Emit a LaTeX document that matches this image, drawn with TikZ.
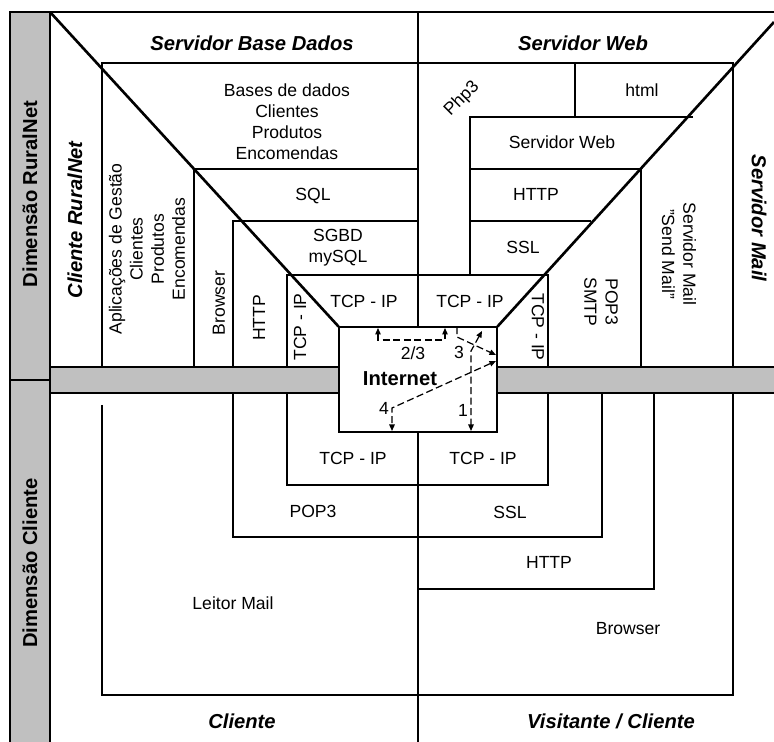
\documentclass[tikz,border=0pt]{standalone}
\usepackage{fontspec}
\setmainfont{Liberation Sans}
\usepackage{tikz}
\usetikzlibrary{arrows.meta}
\definecolor{cinza}{RGB}{192,192,192}
\tikzset{
    camada/.style={line width=1.5pt},
    faixa/.style={draw, fill=cinza, line width=0.6pt},
    caixa/.style={
        rectangle,
        draw,
        fill=white,
        line width=0.6pt,
        minimum width=3.16cm,
        minimum height=2.1cm,
        inner sep=0pt
    },
    rotulo/.style={align=center, inner sep=1pt, font=\fontsize{10}{12}\selectfont},
    titulo/.style={align=center, inner sep=1pt, font=\fontsize{11.5}{13}\selectfont\bfseries\itshape},
    dimensao/.style={align=center, inner sep=1pt, rotate=90, font=\fontsize{11.5}{13}\selectfont\bfseries},
    ponta/.tip={Triangle[length=1.3mm,width=1.1mm]},
    seta/.style={dash pattern=on 4pt off 2pt, line width=0.7pt, -ponta},
    dupla/.style={dash pattern=on 4pt off 2pt, line width=0.7pt, ponta-ponta}
}

\begin{document}
\begin{tikzpicture}[x=0.02cm, y=-0.02cm]
    \useasboundingbox (0,0) rectangle (774,742);

    % faixas cinzentas
    \draw[faixa] (10,12) rectangle (50,750);
    \draw[line width=0.6pt] (10,380) -- (50,380);
    \draw[faixa] (50,367) rectangle (340,393);
    \draw[faixa] (496,367) rectangle (780,393);
    \node[caixa] (internet) at (418,379.5) {};

    % moldura exterior
    \draw[camada] (50,12) -- (774,12);
    \draw[camada] (50,12) -- (internet.north west);
    \draw[camada] (internet.north east) -- (774,22);
    \draw[camada] (418,12) -- (internet.north);
    \draw[camada] (internet.south) -- (418,742);

    % camadas superiores
    \draw[camada] (102,367) -- (102,63) -- (733,63) -- (733,367);
    \draw[camada] (194,367) -- (194,169) -- (418,169);
    \draw[camada] (233,367) -- (233,221) -- (418,221);
    \draw[camada] (287,367) -- (287,275) -- (548,275) -- (548,367);
    \draw[camada] (575,63) -- (575,117);
    \draw[camada] (693,117) -- (470,117) -- (470,275);
    \draw[camada] (470,169) -- (641,169) -- (641,367);
    \draw[camada] (470,221) -- (591,221);

    % camadas inferiores
    \draw[camada] (287,393) -- (287,485) -- (548,485) -- (548,393);
    \draw[camada] (233,393) -- (233,537) -- (602,537) -- (602,393);
    \draw[camada] (418,589) -- (654,589) -- (654,393);
    \draw[camada] (102,405) -- (102,695) -- (733,695) -- (733,393);

    % dimensoes e titulos
    \node[dimensao] (dimrural) at (30,194) {Dimensão RuralNet};
    \node[dimensao] (dimcli) at (30,563) {Dimensão Cliente};
    \node[titulo, rotate=90] (clirural) at (75,220) {Cliente RuralNet};
    \node[titulo] (srvbd) at (252,43) {Servidor Base Dados};
    \node[titulo] (srvweb) at (583,43) {Servidor Web};
    \node[titulo, rotate=-90] (srvmail) at (759,218) {Servidor Mail};
    \node[titulo] (cliente) at (242,721) {Cliente};
    \node[titulo] (visitante) at (611,721) {Visitante / Cliente};

    % servidor base dados
    \node[rotulo] (bases) at (287,122)
        {Bases de dados\\Clientes\\Produtos\\Encomendas};
    \node[rotulo] (sql) at (313,196) {SQL};
    \node[rotulo] (sgbd) at (338,248) {SGBD\\mySQL};
    \node[rotulo] (tcpa) at (364,301) {TCP - IP};
    \node[rotulo, rotate=90] (tcpb) at (300,327) {TCP - IP};
    \node[rotulo, rotate=90] (httpa) at (259,318) {HTTP};
    \node[rotulo, rotate=90] (browsera) at (219,303) {Browser};
    \node[rotulo, rotate=90] (aplic) at (147,249)
        {Aplicações de Gestão\\Clientes\\Produtos\\Encomendas};

    % servidor web
    \node[rotulo, rotate=45, inner sep=0pt] (php) at (462,99) {Php3};
    \node[rotulo] (html) at (642,90) {html};
    \node[rotulo] (web) at (562,142) {Servidor Web};
    \node[rotulo] (httpb) at (536,194) {HTTP};
    \node[rotulo] (ssla) at (523,247) {SSL};
    \node[rotulo] (tcpc) at (470,301) {TCP - IP};
    \node[rotulo, rotate=-90] (tcpd) at (538,327) {TCP - IP};
    \node[rotulo, rotate=-90] (pop) at (601,302) {POP3\\SMTP};
    \node[rotulo, rotate=-90] (mail) at (679,254) {Servidor Mail\\"Send Mail"};

    % cliente
    \node[rotulo] (tcpe) at (353,458) {TCP - IP};
    \node[rotulo] (tcpf) at (483,458) {TCP - IP};
    \node[rotulo] (popb) at (313,511) {POP3};
    \node[rotulo] (sslb) at (510,512) {SSL};
    \node[rotulo] (httpc) at (549,562) {HTTP};
    \node[rotulo] (leitor) at (233,603) {Leitor Mail};
    \node[rotulo] (browserb) at (628,629) {Browser};

    % internet
    \node[titulo, font=\fontsize{11.5}{13}\selectfont\bfseries] (net) at (400,379) {Internet};
    \node[rotulo] (l23) at (413,353) {2/3};
    \node[rotulo] (l3) at (459,352) {3};
    \node[rotulo] (l4) at (384,408) {4};
    \node[rotulo] (l1) at (463,410) {1};

    \coordinate (p23a) at (378,328);
    \coordinate (p23b) at (378,340);
    \coordinate (p23c) at (445,340);
    \coordinate (p23d) at (445,328);
    \coordinate (p3a) at (457,327);
    \coordinate (p3b) at (457,337);
    \coordinate (p3c) at (496,355);
    \coordinate (p1a) at (482,331);
    \coordinate (p1b) at (471,351);
    \coordinate (p1c) at (471,431);
    \coordinate (p4a) at (496,361);
    \coordinate (p4b) at (392,408);
    \coordinate (p4c) at (392,431);

    \draw[dupla] (p23a) -- (p23b) -- (p23c) -- (p23d);
    \draw[seta] (p3a) -- (p3b) -- (p3c);
    \draw[dupla] (p1a) -- (p1b) -- (p1c);
    \draw[dupla] (p4a) -- (p4b) -- (p4c);
\end{tikzpicture}
\end{document}
